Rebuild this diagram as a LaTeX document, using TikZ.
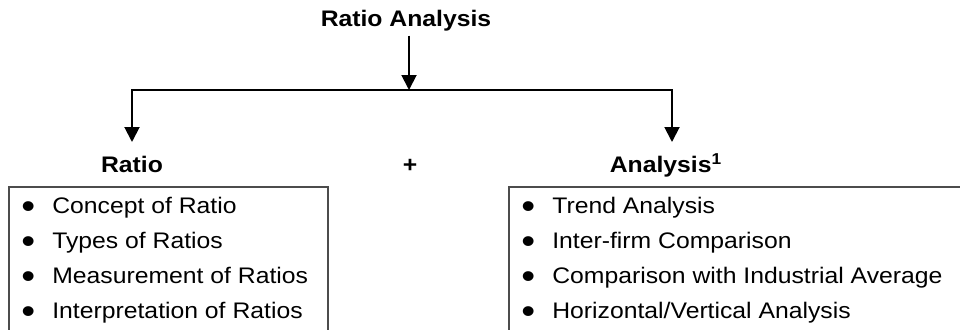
\documentclass[tikz,border=0pt]{standalone}
\usepackage{fontspec}
\setmainfont{Liberation Sans}[FakeStretch=1.1]
\usepackage{graphicx}
\usetikzlibrary{arrows.meta}
\newcommand{\bul}{\makebox[0.62cm][l]{\raisebox{-3.4pt}{\scalebox{1.6}{\textbullet}}}}

\begin{document}
\begin{tikzpicture}[every node/.style={font=\fontsize{12.8}{15}\selectfont, inner sep=0pt},
  head/.style={font=\fontsize{12.8}{15}\selectfont\bfseries, anchor=base},
  item/.style={anchor=base west},
  arr/.style={line width=1.1pt, -{Triangle[length=0.3cm,width=0.3cm]}},
  box/.style={line width=0.6pt, black!70}]
  \useasboundingbox (0,0) rectangle (19.2,-6.58);
  \node[head] (top) at (8.12,-0.54) {Ratio Analysis};
  \coordinate (mid) at (8.18,-1.8);
  \coordinate (Lt) at (2.64,-2.84); \coordinate (Rt) at (13.44,-2.84);
  \draw[arr, shorten <=2pt] (top.south -| mid) -- (mid);
  \draw[arr] (mid) -| (Lt); \draw[arr] (mid) -| (Rt);
  \node[head] (ratio) at (2.64,-3.44) {Ratio};
  \node[head] (plus) at (8.2,-3.44) {+};
  \node[head] (analysis) at (13.32,-3.44) {Analysis\textsuperscript{1}};
  % boxes, cut at the bottom
  \draw[box] (0.18,-6.7) -- (0.18,-3.74) -- (6.56,-3.74) -- (6.56,-6.7);
  \draw[box] (10.18,-6.7) -- (10.18,-3.74) -- (19.3,-3.74);
  \node[item] (r1) at (0.42,-4.26) {\bul Concept of Ratio};
  \node[item] (r2) at (0.42,-4.96) {\bul Types of Ratios};
  \node[item] (r3) at (0.42,-5.66) {\bul Measurement of Ratios};
  \node[item] (r4) at (0.42,-6.36) {\bul Interpretation of Ratios};
  \node[item] (a1) at (10.42,-4.26) {\bul Trend Analysis};
  \node[item] (a2) at (10.42,-4.96) {\bul Inter-firm Comparison};
  \node[item] (a3) at (10.42,-5.66) {\bul Comparison with Industrial Average};
  \node[item] (a4) at (10.42,-6.36) {\bul Horizontal/Vertical Analysis};
\end{tikzpicture}
\end{document}
